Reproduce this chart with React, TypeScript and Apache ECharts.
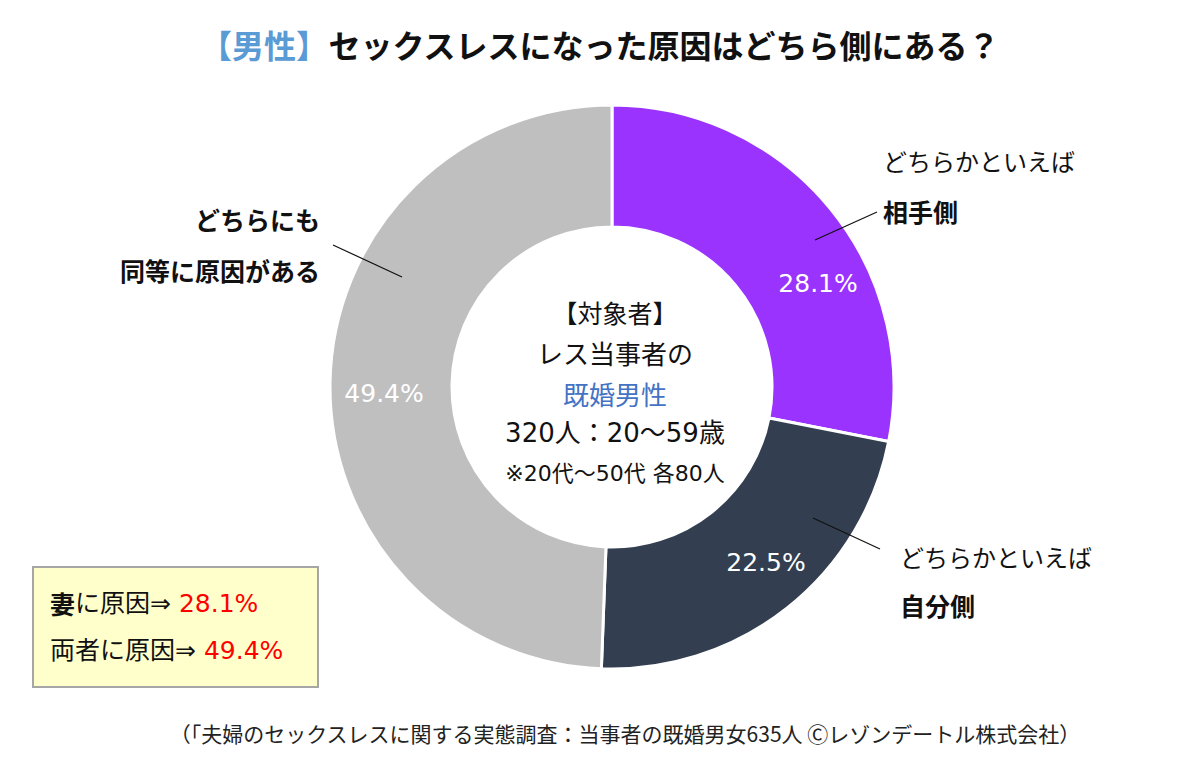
import React, { useEffect, useRef } from "react";
import * as echarts from "echarts";

const categories = ["どちらかといえば相手側", "どちらかといえば自分側", "どちらにも同等に原因がある"];
const values = [28.1, 22.5, 49.4];
const sliceColors = ["#9B33FF", "#333F50", "#BFBFBF"];
const titleTag = "【男性】";
const titleMain = "セックスレスになった原因はどちら側にある？";
const centerLines = ["【対象者】", "レス当事者の", "既婚男性", "320人：20〜59歳", "※20代〜50代 各80人"];
const boxLabels = ["に原因⇒ ", "両者に原因⇒ "];
const sourceText = "（「夫婦のセックスレスに関する実態調査：当事者の既婚男女635人 Ⓒレゾンデートル株式会社）";

const JP = "'Noto Sans CJK JP', sans-serif";
const MIX = "'DejaVu Sans', 'Noto Sans CJK JP', sans-serif";

// label offsets from ECharts' default inside position (layout only)
const labelShift = [
  { dx: 33, dy: 39 },
  { dx: 15, dy: 0 },
  { dx: -4, dy: 11 },
];

export default function App() {
  const ref = useRef<HTMLDivElement>(null);
  useEffect(() => {
    document.body.style.margin = "0";
    const chart = echarts.init(ref.current!, null, { renderer: "svg" });
    const fmt = (v: number) => v.toFixed(1) + "%";
    const centerStyles = [
      { size: 25, color: "#111", family: JP },
      { size: 26, color: "#111", family: JP },
      { size: 26, color: "#4472C4", family: JP },
      { size: 26, color: "#111", family: MIX },
      { size: 22, color: "#111", family: MIX },
    ];
    const centerY = [312, 352, 393, 433, 473];
    const graphic: any[] = [];
    centerLines.forEach((t, i) => {
      graphic.push({
        type: "text",
        x: 615,
        y: centerY[i],
        z: 20,
        style: {
          text: t,
          fill: centerStyles[i].color,
          fontSize: centerStyles[i].size,
          fontFamily: centerStyles[i].family,
          align: "center",
          verticalAlign: "middle",
        },
      });
    });
    // outer annotations
    const outer = [
      { lines: [["どちらかといえば", "normal"], ["相手側", "bold"]], x: 883, y: [160, 211], align: "left" },
      { lines: [["どちらかといえば", "normal"], ["自分側", "bold"]], x: 900, y: [556, 605], align: "left" },
      { lines: [["どちらにも", "bold"], ["同等に原因がある", "bold"]], x: 320, y: [219, 270], align: "right" },
    ];
    outer.forEach((o) => {
      o.lines.forEach(([t, w], j) => {
        graphic.push({
          type: "text",
          x: o.x,
          y: o.y[j],
          z: 20,
          style: {
            text: t,
            fill: "#111",
            fontSize: w === "bold" ? 25 : 24,
            fontWeight: w,
            fontFamily: JP,
            align: o.align,
            verticalAlign: "middle",
          },
        });
      });
    });
    const leaders = [
      [815, 240, 877, 212],
      [813, 518, 880, 549],
      [333, 245, 402, 277],
    ];
    leaders.forEach(([x1, y1, x2, y2]) => {
      graphic.push({
        type: "line",
        z: 20,
        shape: { x1, y1, x2, y2 },
        style: { stroke: "#111", lineWidth: 1.2 },
      });
    });
    // box
    graphic.push({
      type: "rect",
      z: 5,
      shape: { x: 33, y: 567, width: 285, height: 120 },
      style: { fill: "#FFFFCC", stroke: "#A6A6A6", lineWidth: 2 },
    });
    graphic.push({
      type: "text",
      x: 50,
      y: 603,
      z: 20,
      style: {
        text: `{b|妻}{n|${boxLabels[0]}}{r|${fmt(values[0])}}`,
        verticalAlign: "middle",
        rich: {
          b: { fontSize: 25, fontWeight: "bold", fill: "#111", fontFamily: JP },
          n: { fontSize: 25, fill: "#111", fontFamily: MIX },
          r: { fontSize: 25, fill: "#FF0000", fontFamily: MIX },
        },
      },
    });
    graphic.push({
      type: "text",
      x: 50,
      y: 650,
      z: 20,
      style: {
        text: `{n|${boxLabels[1]}}{r|${fmt(values[2])}}`,
        verticalAlign: "middle",
        rich: {
          n: { fontSize: 25, fill: "#111", fontFamily: MIX },
          r: { fontSize: 25, fill: "#FF0000", fontFamily: MIX },
        },
      },
    });
    graphic.push({
      type: "text",
      x: 625,
      y: 733,
      z: 20,
      style: {
        text: sourceText,
        fill: "#222",
        fontSize: 21,
        fontFamily: JP,
        align: "center",
        verticalAlign: "middle",
      },
    });

    chart.setOption({
      animation: false,
      backgroundColor: "#FFFFFF",
      title: {
        text: `{a|${titleTag}}{b|${titleMain}}`,
        left: "center",
        top: 23,
        textStyle: {
          rich: {
            a: { fontSize: 32, fontWeight: "bold", color: "#5B9BD5", fontFamily: JP },
            b: { fontSize: 32, fontWeight: "bold", color: "#111", fontFamily: JP },
          },
        },
      },
      series: [
        {
          type: "pie",
          center: [612, 387],
          radius: [160, 282],
          startAngle: 90,
          clockwise: true,
          silent: true,
          itemStyle: { borderColor: "#FFFFFF", borderWidth: 3 },
          label: {
            show: true,
            position: "inside",
            color: "#FFFFFF",
            fontSize: 25,
            fontFamily: MIX,
            formatter: (p: any) => fmt(p.value),
          },
          labelLine: { show: false },
          labelLayout: (p: any) => labelShift[p.dataIndex],
          data: categories.map((name, i) => ({
            name,
            value: values[i],
            itemStyle: { color: sliceColors[i] },
          })),
        },
      ],
      graphic,
    });
    return () => chart.dispose();
  }, []);
  return <div ref={ref} style={{ width: 1200, height: 759 }} />;
}
